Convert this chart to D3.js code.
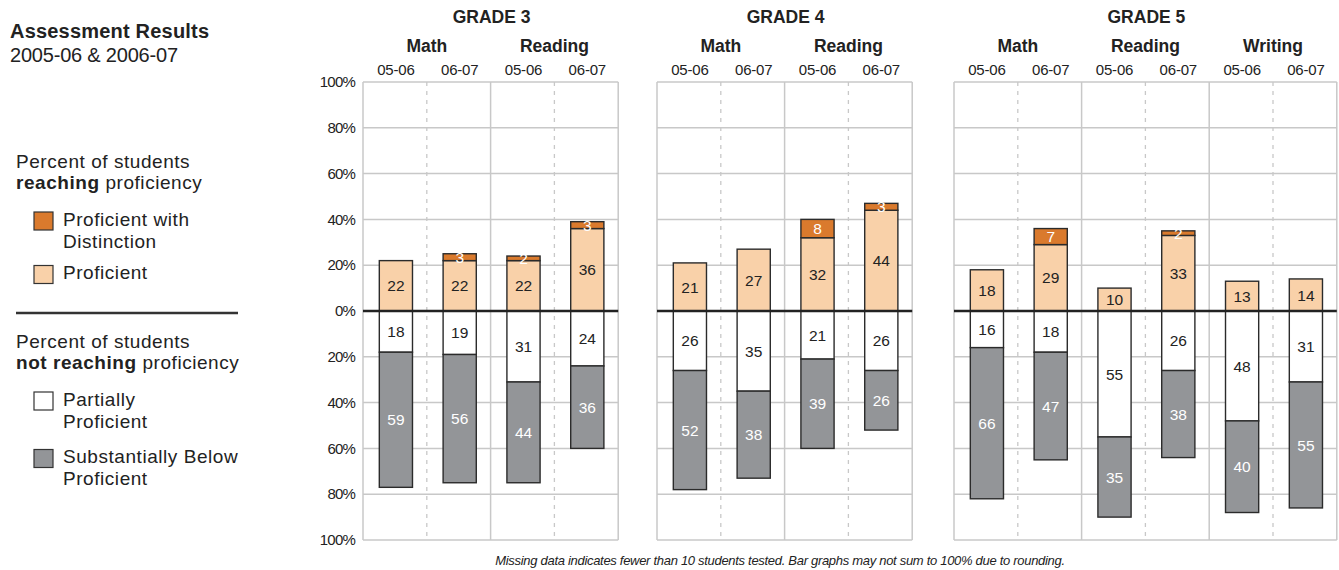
<!DOCTYPE html>
<html>
<head>
<meta charset="utf-8">
<script src="https://cdn.jsdelivr.net/npm/d3@7"></script>
<style>
  html, body { margin: 0; padding: 0; background: #fff; }
  svg { display: block; }
  text { font-family: 'Liberation Sans', Arial, Helvetica, sans-serif; fill: #222; }
</style>
</head>
<body>
<svg id="chart" width="1339" height="570"></svg>
<script>
// ---------------- DATA ----------------
const grades = ["GRADE 3", "GRADE 4", "GRADE 5"];
const subjectsByGrade = [["Math", "Reading"], ["Math", "Reading"], ["Math", "Reading", "Writing"]];
const years = ["05-06", "06-07"];
// one entry per bar, in order: grade 3 (4 bars), grade 4 (4 bars), grade 5 (6 bars)
const distinction  = [0, 3, 2, 3,   0, 0, 8, 3,   0, 7, 0, 2, 0, 0];
const proficient   = [22, 22, 22, 36, 21, 27, 32, 44, 18, 29, 10, 33, 13, 14];
const partially    = [18, 19, 31, 24, 26, 35, 21, 26, 16, 18, 55, 26, 48, 31];
const substBelow   = [59, 56, 44, 36, 52, 38, 39, 26, 66, 47, 35, 38, 40, 55];
const yTicks = [100, 80, 60, 40, 20, 0, -20, -40, -60, -80, -100];
const footnote = "Missing data indicates fewer than 10 students tested. Bar graphs may not sum to 100% due to rounding.";

// ---------------- STYLE / LAYOUT ----------------
const C = {
  dist: "#da7a2d", prof: "#f9d1a9", part: "#ffffff", below: "#939598",
  grid: "#c8c8c8", edge: "#2b2b2b", text: "#222"
};
const panelX = [363, 657, 954];
const colW = 63.8;

const svg = d3.select("#chart");
const y = d3.scaleLinear().domain([-100, 100]).range([540, 82]);

// build bar records
const bars = [];
let idx = 0;
grades.forEach((g, gi) => {
  subjectsByGrade[gi].forEach(s => {
    years.forEach(yr => {
      bars.push({ grade: gi, subject: s, year: yr, key: s + "|" + yr,
        dist: distinction[idx], prof: proficient[idx], part: partially[idx], below: substBelow[idx] });
      idx++;
    });
  });
});

// ---------------- TITLE & LEGEND ----------------
svg.append("text").attr("x", 10).attr("y", 38).style("font-size", "20px").style("font-weight", "bold")
  .style("letter-spacing", "0.2px").text("Assessment Results");
svg.append("text").attr("x", 10).attr("y", 62).style("font-size", "20px").style("letter-spacing", "-0.2px")
  .text("2005-06 & 2006-07");

const legFont = "19px";
const legSpacing = "0.55px";
function legLine(x, yy, parts) {
  const t = svg.append("text").attr("x", x).attr("y", yy).style("font-size", legFont).style("letter-spacing", legSpacing);
  parts.forEach(p => t.append("tspan").style("font-weight", p[1] ? "bold" : "normal").text(p[0]));
}
legLine(16, 168, [["Percent of students", false]]);
legLine(16, 189, [["reaching", true], [" proficiency", false]]);
legLine(16, 348, [["Percent of students", false]]);
legLine(16, 369, [["not reaching", true], [" proficiency", false]]);

svg.append("line").attr("x1", 16).attr("x2", 238).attr("y1", 313).attr("y2", 313)
  .attr("stroke", "#333").attr("stroke-width", 2.5);

const legendItems = [
  { fill: C.dist, lines: ["Proficient with", "Distinction"], top: 212 },
  { fill: C.prof, lines: ["Proficient"], top: 265.5 },
  { fill: C.part, lines: ["Partially", "Proficient"], top: 392 },
  { fill: C.below, lines: ["Substantially Below", "Proficient"], top: 449.5 }
];
legendItems.forEach(it => {
  svg.append("rect").attr("x", 34).attr("y", it.top).attr("width", 19).attr("height", 18)
    .attr("fill", it.fill).attr("stroke", "#333").attr("stroke-width", 1.2);
  it.lines.forEach((l, i) => {
    svg.append("text").attr("x", 63).attr("y", it.top + 13.5 + i * 22).style("font-size", legFont)
      .style("letter-spacing", legSpacing).text(l);
  });
});

// ---------------- Y AXIS LABELS ----------------
svg.append("g").selectAll("text").data(yTicks).join("text")
  .attr("x", 355).attr("y", d => y(d)).attr("dy", "0.35em").attr("text-anchor", "end")
  .style("font-size", "15px").style("letter-spacing", "-0.8px")
  .text(d => Math.abs(d) + "%");

// ---------------- PANELS ----------------
grades.forEach((g, gi) => {
  const pb = bars.filter(b => b.grade === gi);
  const x = d3.scaleBand().domain(pb.map(b => b.key)).range([0, pb.length * colW]);
  const bw = x.bandwidth() * 0.52;
  const W = pb.length * colW;
  const p = svg.append("g").attr("transform", `translate(${panelX[gi]},0)`);

  // horizontal grid
  p.append("g").selectAll("line").data(yTicks).join("line")
    .attr("x1", 0).attr("x2", W).attr("y1", d => y(d)).attr("y2", d => y(d))
    .attr("stroke", C.grid).attr("stroke-width", 1.5);

  // vertical grid: boundaries
  const subs = subjectsByGrade[gi];
  const bounds = [0];
  subs.forEach(s => bounds.push(x(s + "|" + years[years.length - 1]) + x.step()));
  p.append("g").selectAll("line").data(bounds).join("line")
    .attr("x1", d => d).attr("x2", d => d).attr("y1", y(100)).attr("y2", y(-100))
    .attr("stroke", C.grid).attr("stroke-width", 1.5);
  // dashed year dividers
  const mids = subs.map(s => x(s + "|" + years[1]));
  p.append("g").selectAll("line").data(mids).join("line")
    .attr("x1", d => d).attr("x2", d => d).attr("y1", y(100)).attr("y2", y(-100))
    .attr("stroke", C.grid).attr("stroke-width", 1.3).attr("stroke-dasharray", "4,5");

  // headers
  p.append("text").attr("x", W / 2 + 1).attr("y", 23).attr("text-anchor", "middle")
    .style("font-size", "17.5px").style("font-weight", "bold").text(g);
  subs.forEach(s => {
    const cx = (x(s + "|" + years[0]) + x(s + "|" + years[1]) + x.step()) / 2;
    p.append("text").attr("x", cx).attr("y", 52).attr("text-anchor", "middle")
      .style("font-size", "17.5px").style("font-weight", "bold").text(s);
  });
  p.append("g").selectAll("text").data(pb).join("text")
    .attr("x", d => x(d.key) + x.bandwidth() / 2 + 1).attr("y", 75).attr("text-anchor", "middle")
    .style("font-size", "15px").style("letter-spacing", "-0.2px").text(d => d.year);

  // segments
  const segs = [];
  pb.forEach(b => {
    const cx = x(b.key) + x.bandwidth() / 2 + 1;
    segs.push({ cx, y0: 0, y1: b.prof, v: b.prof, fill: C.prof, tc: C.text });
    segs.push({ cx, y0: b.prof, y1: b.prof + b.dist, v: b.dist, fill: C.dist, tc: "#fff" });
    segs.push({ cx, y0: 0, y1: -b.part, v: b.part, fill: C.part, tc: C.text });
    segs.push({ cx, y0: -b.part, y1: -(b.part + b.below), v: b.below, fill: C.below, tc: "#fff" });
  });
  const shown = segs.filter(s => s.v > 0);
  p.append("g").selectAll("rect").data(shown).join("rect")
    .attr("x", d => d.cx - bw / 2).attr("width", bw)
    .attr("y", d => Math.min(y(d.y0), y(d.y1))).attr("height", d => Math.abs(y(d.y0) - y(d.y1)))
    .attr("fill", d => d.fill).attr("stroke", C.edge).attr("stroke-width", 1.4);

  // zero line
  p.append("line").attr("x1", 0).attr("x2", W).attr("y1", y(0)).attr("y2", y(0))
    .attr("stroke", "#222").attr("stroke-width", 2.6);

  p.append("g").selectAll("text").data(shown).join("text")
    .attr("x", d => d.cx).attr("y", d => y((d.y0 + d.y1) / 2)).attr("dy", "0.36em")
    .attr("text-anchor", "middle").style("font-size", "15.5px").style("fill", d => d.tc)
    .text(d => d.v);
});

// ---------------- FOOTNOTE ----------------
svg.append("text").attr("x", 780).attr("y", 565).attr("text-anchor", "middle")
  .style("font-size", "13px").style("font-style", "italic").style("letter-spacing", "-0.3px")
  .text(footnote);
</script>
</body>
</html>
